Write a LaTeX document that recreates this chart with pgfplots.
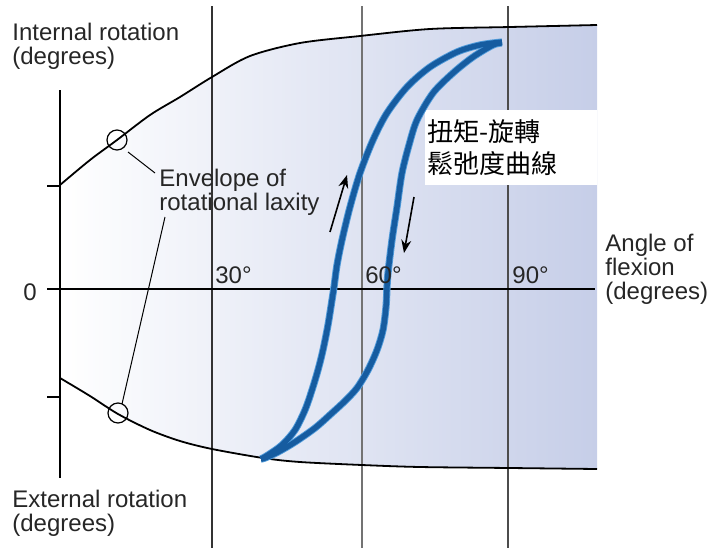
\documentclass[border=0pt]{standalone}
\usepackage{fontspec}
\setmainfont{Liberation Sans}
\newfontfamily\cjk{Noto Sans CJK TC}
\usepackage{pgfplots}
\pgfplotsset{compat=1.18}
\usetikzlibrary{arrows.meta}

\definecolor{loopblue}{RGB}{22,92,160}
\definecolor{loophalo}{RGB}{80,155,218}
\definecolor{shadeR}{RGB}{198,206,232}

\begin{document}
\begin{tikzpicture}
  \begin{axis}[
      scale only axis,
      width=356pt,
      height=274pt,
      xmin=-12, xmax=130.4,
      ymin=-51.8, ymax=57.8,
      hide axis,
      clip=false,
    ]
    \coordinate (bl) at (rel axis cs:0,0);
    \coordinate (tr) at (rel axis cs:1,1);

    %% shaded band between the two envelopes
    \addplot[draw=none, left color=white, right color=shadeR]
    coordinates {
      (0,20.8) (6,25.8) (11.4,29.8) (18,34.8) (24,38.4) (30.4,42.4)
      (34,44.8) (38,46.6) (43,48.1) (48,49.2) (54,50) (60,50.6) (67,51.4)
      (74,52) (82,52.2) (90,52.4) (107.4,52.8)
      (107.4,-36) (90,-35.8) (72,-35.6) (60.4,-35.2) (54,-35)
      (48,-34.6) (44,-34.2) (40.6,-33.8) (35,-33) (30.4,-32) (27,-31.3)
      (24,-30.4) (21,-29.4) (18,-28.2) (14.8,-26.6) (11.6,-25) (9,-23.4)
      (6,-21.4) (3,-19.6) (0,-17.8)
    };

    %% vertical lines at 30, 60, 90 degrees
    \addplot[black!80, line width=0.7pt] coordinates {(30.4,56.6) (30.4,-51.8)};
    \addplot[black!55, line width=0.7pt] coordinates {(60.4,56.6) (60.4,-51.8)};
    \addplot[black!70, line width=0.7pt] coordinates {(89.6,56.6) (89.6,-51.8)};

    %% white box behind the Chinese label
    \addplot[draw=none, fill=white]
    coordinates {(73,35.8) (107.4,35.8) (107.4,20.8) (73,20.8)};

    %% envelope of rotational laxity
    \addplot[black, line width=0.9pt, smooth]
    coordinates {
      (0,20.8) (6,25.8) (11.4,29.8) (18,34.8) (24,38.4) (30.4,42.4)
      (38,46.6) (48,49.2) (60,50.6) (74,52) (90,52.4) (107.4,52.8)
    };
    \addplot[black, line width=0.9pt, smooth]
    coordinates {
      (0,-17.8) (6,-21.4) (11.6,-25) (18,-28.2) (24,-30.4) (30.4,-32)
      (40.6,-33.8) (48,-34.6) (60.4,-35.2) (72,-35.6) (90,-35.8) (107.4,-36)
    };

    %% axes
    \addplot[black, line width=1.1pt] coordinates {(-2.6,0) (107,0)};
    \addplot[black, line width=1.1pt] coordinates {(0,39.8) (0,-37.8)};
    \addplot[black, line width=0.9pt] coordinates {(-2.6,20.6) (0,20.6)};
    \addplot[black, line width=0.9pt] coordinates {(-2.6,-21.6) (0,-21.6)};

    %% torque-rotation laxity loop
    \pgfplotstableread{
      x     y
      40.2  -34
      41.6  -33.2
      44.4  -31.2
      47    -28.2
      49    -24.2
      50.4  -20.2
      51.6  -16.2
      52.6  -12.2
      53.6  -7.2
      54.4  -2.2
      54.8  0.4
      55.4  4.8
      56.4  9.8
      58    16.4
      60    23.2
      62.6  29.8
      65.4  35.2
      69.4  40.4
      74    44.4
      79.4  47.4
      84    48.8
      88.4  49.4
    }\loading
    \pgfplotstableread{
      x     y
      88.4  49.2
      86.6  48.8
      82.6  46.4
      78.6  43.2
      74.6  39.2
      71.4  33.8
      69.8  28.8
      68.4  23.2
      67.4  16.4
      66.4  9.8
      65.6  3.2
      65.4  0.4
      65.2  -3.6
      64.6  -8.2
      63.4  -12.2
      61.6  -16.2
      59.4  -19.8
      57    -22.4
      54.4  -24.8
      51    -27.8
      47    -30.6
      43.6  -32.6
      41    -33.8
      40.2  -34
    }\unloading
    \addplot[loophalo, line width=3.6pt, smooth] table {\loading};
    \addplot[loophalo, line width=3.6pt, smooth] table {\unloading};
    \addplot[loopblue, line width=2.7pt, smooth] table {\loading};
    \addplot[loopblue, line width=2.7pt, smooth] table {\unloading};

    %% direction arrows
    \addplot[black, line width=0.8pt, -{Stealth[length=6.5pt,width=5pt]}]
    coordinates {(54,11.4) (57.4,22.8)};
    \addplot[black, line width=0.8pt, -{Stealth[length=6.5pt,width=5pt]}]
    coordinates {(70.8,18.4) (68.8,7.2)};

    %% leader lines and circles
    \addplot[black, line width=0.5pt] coordinates {(13.6,27.4) (19,23.2)};
    \addplot[black, line width=0.5pt] coordinates {(21,14.4) (12.4,-23)};
    \addplot[only marks, mark=o, mark size=5pt,
      mark options={draw=black, line width=0.6pt, fill=none}]
    coordinates {(11.4,29.8) (11.6,-24.8)};

    %% labels
    \begin{scope}[font=\fontsize{12}{14}\selectfont, text=black!85, inner sep=0pt]
      \node[anchor=base west] at (axis cs:-9.6,49.8) {Internal rotation};
      \node[anchor=base west] at (axis cs:-9.6,45) {(degrees)};
      \node[anchor=base west] at (axis cs:-9.6,-43.6) {External rotation};
      \node[anchor=base west] at (axis cs:-9.6,-48.4) {(degrees)};
      \node[anchor=base west] at (axis cs:-7.4,-2.2) {0};
      \node[anchor=base west] at (axis cs:31,1.2) {30°};
      \node[anchor=base west] at (axis cs:61,1.2) {60°};
      \node[anchor=base west] at (axis cs:90.4,1.2) {90°};
      \node[anchor=base west] at (axis cs:109,7.6) {Angle of};
      \node[anchor=base west] at (axis cs:109,2.8) {flexion};
      \node[anchor=base west] at (axis cs:109,-2) {(degrees)};
      \node[anchor=base west] at (axis cs:19.8,20.6) {Envelope of};
      \node[anchor=base west] at (axis cs:19.8,15.8) {rotational laxity};
    \end{scope}
    \node[anchor=base west, inner sep=0pt, font=\cjk\fontsize{13}{15}\selectfont]
      at (axis cs:73.4,29.6) {扭矩-旋轉};
    \node[anchor=base west, inner sep=0pt, font=\cjk\fontsize{13}{15}\selectfont]
      at (axis cs:73.4,23.2) {鬆弛度曲線};
  \end{axis}
  \pgfresetboundingbox
  \useasboundingbox (bl) rectangle (tr);
\end{tikzpicture}
\end{document}
